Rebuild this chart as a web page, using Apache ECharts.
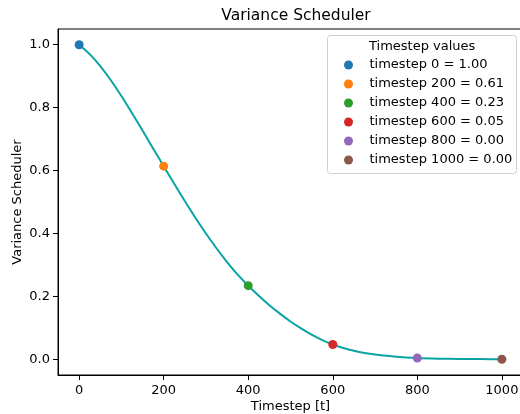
<!DOCTYPE html>
<html>
<head>
<meta charset="utf-8">
<script src="https://cdn.jsdelivr.net/npm/echarts@6/dist/echarts.min.js"></script>
<style>html,body{margin:0;padding:0;background:#fff;}#c{width:520px;height:414px;}</style>
</head>
<body>
<div id="c"></div>
<script>
// Curve
const curveSteps = [0,25,50,75,100,125,150,175,200,225,250,275,300,325,350,375,400,425,450,475,500,525,550,575,600,625,650,675,700,750,800,850,900,950,1000];
const curveValues = [1.000,0.970,0.932,0.887,0.837,0.783,0.727,0.670,0.614,0.558,0.503,0.450,0.400,0.353,0.309,0.269,0.234,0.202,0.172,0.145,0.120,0.098,0.078,0.061,0.047,0.036,0.027,0.020,0.015,0.008,0.004,0.002,0.001,0.0005,0.000];
// Marked timesteps
const markerSteps = [0,200,400,600,800,1000];
const markerValues = [1.000,0.614,0.234,0.047,0.004,0.000];
const markerColors = ['#1f77b4','#ff7f0e','#2ca02c','#d62728','#9467bd','#8c564b'];
const xTicks = [0,200,400,600,800,1000];
const yTicks = [0,0.2,0.4,0.6,0.8,1.0];

const FONT = 'DejaVu Sans';
const chart = echarts.init(document.getElementById('c'), null, {renderer:'canvas'});

const series = [{
  type:'line', name:'curve', data: curveSteps.map((s,i)=>[s,curveValues[i]]),
  showSymbol:false, smooth:0.3, lineStyle:{color:'#0aa3a3', width:2}, itemStyle:{color:'#0aa3a3'},
  z:2, silent:true, legendHoverLink:false
}];
const legendNames = [];
markerSteps.forEach((s,i)=>{
  const name = 'timestep ' + s + ' = ' + markerValues[i].toFixed(2);
  legendNames.push(name);
  series.push({type:'scatter', name:name, data:[[s, markerValues[i]]], symbol:'circle', symbolSize:9,
    itemStyle:{color:markerColors[i], opacity:1}, z:5});
});

chart.setOption({
  animation:false,
  backgroundColor:'#fff',
  textStyle:{fontFamily:FONT},
  title:{text:'Variance Scheduler', left:291, top:3, textAlign:'center',
    textStyle:{fontFamily:FONT, fontSize:15.5, fontWeight:'normal', color:'#000'}},
  grid:{left:58, top:29, right:-3, bottom:39, show:true, borderColor:'#000', borderWidth:1, backgroundColor:'transparent', outerBoundsMode:'none', containLabel:false},
  xAxis:{type:'value', min:-50, max:1050,
    name:'Timestep [t]', nameLocation:'middle', nameGap:25, nameMoveOverlap:false,
    nameTextStyle:{fontFamily:FONT, fontSize:13, color:'#000'},
    axisLine:{show:true, onZero:false, lineStyle:{color:'#000', width:1}},
    axisTick:{show:true, length:5, inside:false, customValues:xTicks, lineStyle:{color:'#000'}},
    axisLabel:{customValues:xTicks, margin:9, fontFamily:FONT, fontSize:13, color:'#000', formatter:v=>String(v)},
    splitLine:{show:false}},
  yAxis:{type:'value', min:-0.05, max:1.05,
    name:'Variance Scheduler', nameLocation:'middle', nameGap:34, nameRotate:90, nameMoveOverlap:false,
    nameTextStyle:{fontFamily:FONT, fontSize:13, color:'#000'},
    axisLine:{show:true, onZero:false, lineStyle:{color:'#000', width:1}},
    axisTick:{show:true, length:5, inside:false, customValues:yTicks, lineStyle:{color:'#000'}},
    axisLabel:{customValues:yTicks, margin:8, fontFamily:FONT, fontSize:13, color:'#000', formatter:v=>v.toFixed(1)},
    splitLine:{show:false}},
  legend:{data:legendNames, orient:'vertical', left:339, top:53, itemWidth:32, itemHeight:9, itemGap:5,
    icon:'circle', selectedMode:false, z:20,
    textStyle:{fontFamily:FONT, fontSize:13, color:'#000', lineHeight:14}},
  graphic:[
    {type:'rect', left:327, top:35, shape:{width:189, height:138, r:3}, style:{fill:'rgba(255,255,255,0.8)', stroke:'#d0d0d0', lineWidth:1}, z:3},
    {type:'text', left:369, top:40, style:{text:'Timestep values', font:'13px "DejaVu Sans"', fill:'#000'}, z:21}
  ],
  series:series
});
</script>
</body>
</html>
